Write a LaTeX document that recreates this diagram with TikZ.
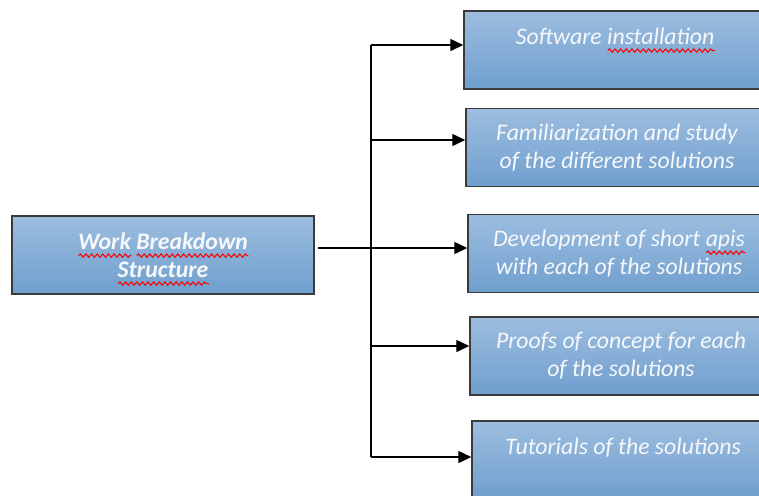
\documentclass[tikz,border=0pt]{standalone}
\usepackage{fontspec}
\setmainfont{Carlito}
\usetikzlibrary{arrows.meta,decorations.pathmorphing}
\definecolor{boxtop}{RGB}{157,189,223}
\definecolor{boxbottom}{RGB}{111,159,206}
\definecolor{boxline}{RGB}{58,58,58}
\definecolor{boxtext}{RGB}{246,248,252}
\newlength{\spellwd}
\newcommand{\spellwave}[1]{\settowidth{\spellwd}{#1}%
	\rlap{\smash{\tikz[baseline=0pt]\draw[red,line width=0.6pt,decorate,
		decoration={snake,segment length=3.2pt,amplitude=0.95pt}] (0pt,-3.6pt) -- (\spellwd,-3.6pt);}}#1}
\newcommand{\branch}[2]{\draw[branchline] (#1) -- (#1 -| #2.west);}

\begin{document}
\begin{tikzpicture}[x=0.02cm,y=-0.02cm,
	wbsbox/.style={draw=boxline,line width=0.85pt,top color=boxtop,bottom color=boxbottom,
		minimum width=6.04cm,minimum height=1.56cm,inner sep=0pt,align=center,
		text=boxtext,font=\fontsize{13.5}{15.9}\selectfont\itshape},
	branchline/.style={line width=0.75pt,-{Triangle[length=2.6mm,width=2.4mm]}}]
	\useasboundingbox (0,0) rectangle (759,495);
	\clip (0,0) rectangle (759,495);
	
	% Root of the breakdown
	\node[wbsbox,font=\fontsize{13.5}{15.9}\selectfont\bfseries\itshape] (root) at (163,255)
		{\spellwave{Work} \spellwave{Breakdown}\\\spellwave{Structure}};
	
	% Tasks
	\node[wbsbox] (install) at (615,50) {Software \spellwave{installation}\\\mbox{}};
	\node[wbsbox] (study) at (617,147.5) {Familiarization and study\\of the different solutions};
	\node[wbsbox] (apis) at (619,253.5) {Development of short \spellwave{apis}\\with each of the solutions};
	\node[wbsbox] (proofs) at (621,356) {Proofs of concept for each\\of the solutions};
	\node[wbsbox] (tutorials) at (623,460) {Tutorials of the solutions\\\mbox{}};
	
	% Trunk of the tree
	\coordinate (t1) at (371,45);
	\coordinate (t2) at (371,140);
	\coordinate (t3) at (371,248);
	\coordinate (t4) at (371,346);
	\coordinate (t5) at (371,457);
	\draw[line width=0.75pt] (t1) -- (t5);
	\draw[branchline,shorten <=2pt] (root.east |- t3) -- (t3 -| apis.west);
	
	% Branches
	\branch{t1}{install}
	\branch{t2}{study}
	\branch{t4}{proofs}
	\branch{t5}{tutorials}
\end{tikzpicture}
\end{document}
